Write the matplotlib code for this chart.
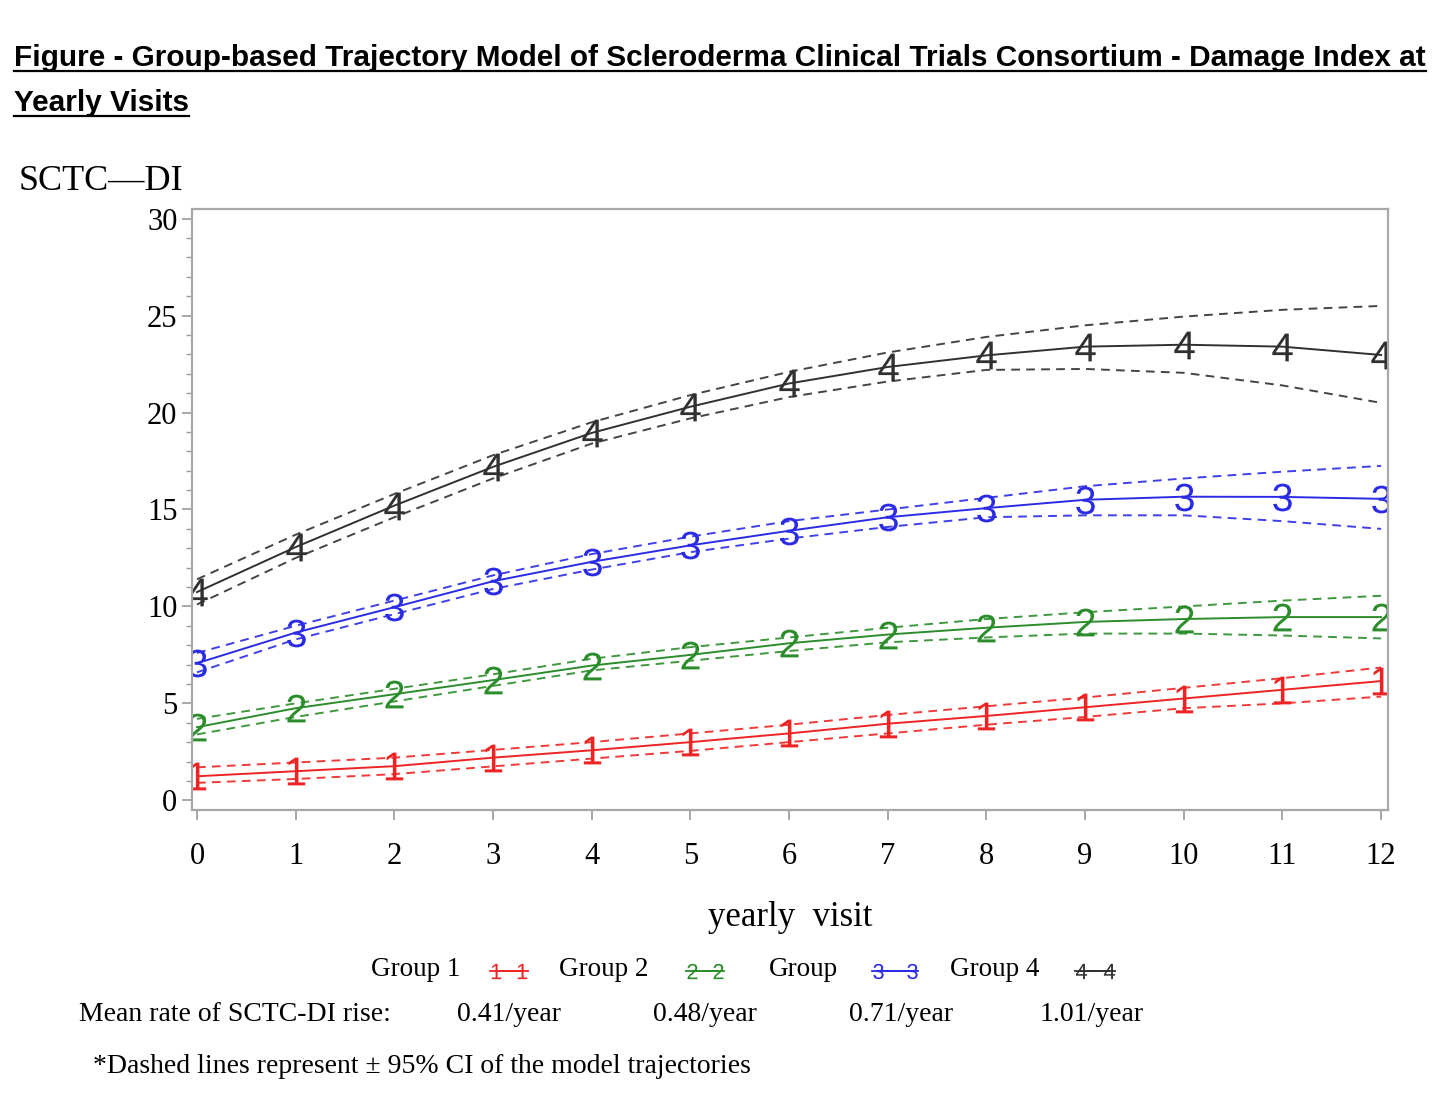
import matplotlib
matplotlib.use("Agg")
import matplotlib.pyplot as plt
from matplotlib.lines import Line2D
import numpy as np

# ----------------------------------------------------------------------------------------------------------------------
#  DATA
# ----------------------------------------------------------------------------------------------------------------------
visits = list(range(13))

g1_mean  = [1.24, 1.50, 1.76, 2.20, 2.58, 3.00, 3.45, 3.95, 4.35, 4.80, 5.25, 5.70, 6.15]
g1_upper = [1.70, 1.95, 2.20, 2.60, 3.00, 3.45, 3.90, 4.40, 4.85, 5.30, 5.80, 6.30, 6.85]
g1_lower = [0.90, 1.10, 1.35, 1.75, 2.15, 2.55, 3.00, 3.45, 3.90, 4.30, 4.75, 5.00, 5.35]

g2_mean  = [3.77, 4.75, 5.47, 6.20, 6.95, 7.50, 8.10, 8.55, 8.90, 9.20, 9.35, 9.45, 9.45]
g2_upper = [4.20, 5.00, 5.75, 6.50, 7.30, 7.90, 8.40, 8.90, 9.35, 9.70, 10.00, 10.30, 10.55]
g2_lower = [3.40, 4.30, 5.10, 5.90, 6.70, 7.20, 7.70, 8.15, 8.40, 8.60, 8.60, 8.50, 8.35]

g3_mean  = [7.07, 8.65, 9.96, 11.30, 12.30, 13.15, 13.90, 14.60, 15.07, 15.50, 15.66, 15.65, 15.55]
g3_upper = [7.60, 9.00, 10.30, 11.60, 12.70, 13.60, 14.40, 15.00, 15.60, 16.20, 16.60, 16.95, 17.25]
g3_lower = [6.60, 8.30, 9.60, 10.90, 11.90, 12.80, 13.50, 14.10, 14.60, 14.70, 14.70, 14.40, 14.00]

g4_mean  = [10.74, 13.06, 15.20, 17.20, 18.95, 20.30, 21.50, 22.35, 22.95, 23.40, 23.50, 23.40, 22.97]
g4_upper = [11.40, 13.70, 15.80, 17.80, 19.50, 20.90, 22.10, 23.10, 23.90, 24.50, 24.95, 25.30, 25.50]
g4_lower = [10.10, 12.50, 14.60, 16.60, 18.40, 19.70, 20.80, 21.60, 22.20, 22.25, 22.05, 21.40, 20.50]

group_labels = ['Group 1', 'Group 2', 'Group', 'Group 4']
group_marks  = ['1', '2', '3', '4']
group_colors = ['#ee2424', '#2a8c2a', '#2b2be6', '#303030']
mean_rates   = ['0.41/year', '0.48/year', '0.71/year', '1.01/year']

x_ticks = list(range(13))
y_ticks = [0, 5, 10, 15, 20, 25, 30]

# ----------------------------------------------------------------------------------------------------------------------
#  PLOT
# ----------------------------------------------------------------------------------------------------------------------
serif = ['Liberation Serif', 'DejaVu Serif']
plt.rcParams['font.family'] = serif
plt.rcParams['mathtext.fontset'] = 'custom'
plt.rcParams['mathtext.sf'] = 'Liberation Sans'

fig = plt.figure(figsize=(14.46, 11.07), dpi=100)
ax  = fig.add_axes([0.1328, 0.2683, 0.8271, 0.5429])

means  = [g1_mean, g2_mean, g3_mean, g4_mean]
uppers = [g1_upper, g2_upper, g3_upper, g4_upper]
lowers = [g1_lower, g2_lower, g3_lower, g4_lower]

for i in range(4):
    col = group_colors[i]
    mk  = r'$\mathsf{' + group_marks[i] + '}$'
    ax.plot(visits, uppers[i], color=col, linewidth=1.4, dashes=(4.5, 3.2), alpha=0.9)
    ax.plot(visits, lowers[i], color=col, linewidth=1.4, dashes=(4.5, 3.2), alpha=0.9)
    ax.plot(visits, means[i], color=col, linewidth=1.4,
            marker=mk, markersize=20,
            markeredgewidth=0, markerfacecolor=col, markeredgecolor=col)

ax.set_xlim(-0.05, 12.07)
ax.set_ylim(-0.5, 30.5)
ax.set_xticks(x_ticks)
ax.set_yticks(y_ticks)
ax.set_yticks(np.arange(0, 31, 1), minor=True)
ax.tick_params(axis='both', which='major', labelsize=22, color='#9a9a9a', width=1.2, length=7, direction='out')
ax.tick_params(axis='y', which='minor', color='#9a9a9a', width=1.0, length=4)
ax.tick_params(axis='x', pad=16)
for sp in ax.spines.values():
    sp.set_color('#a8a8a8')
    sp.set_linewidth(1.6)

ax.set_xlabel('yearly  visit', fontsize=25, labelpad=22)
ax.text(-0.145, 1.045, 'SCTC\u2014DI', transform=ax.transAxes, fontsize=26, ha='left', va='center')

# legend row: label followed by a short line sample with two group digits
W, H = 1446.0, 1107.0
legend_y   = 1 - 970 / H
label_x    = [371, 559, 769, 950]
sample_x   = [(490, 528), (686, 724), (872, 918), (1075, 1115)]
for i in range(4):
    col = group_colors[i]
    fig.text(label_x[i] / W, legend_y, group_labels[i], fontsize=19.5, va='center')
    x0, x1 = sample_x[i]
    fig.add_artist(Line2D([(x0 + 6) / W, (x1 - 6) / W], [legend_y - 0.001] * 2, transform=fig.transFigure,
                          color=col, linewidth=1.3, marker=r'$\mathsf{' + group_marks[i] + '}$',
                          markersize=11, markeredgewidth=0))
    fig.add_artist(Line2D([x0 / W, x1 / W], [legend_y - 0.001] * 2, transform=fig.transFigure,
                          color=col, linewidth=1.3))

# mean rate row
fig.text(0.0546, 0.0835, 'Mean rate of SCTC-DI rise:', fontsize=20, va='center')
for x_pos, rate in zip([0.316, 0.4515, 0.587, 0.719], mean_rates):
    fig.text(x_pos, 0.0835, rate, fontsize=20, va='center')

fig.text(0.064, 0.0365, '*Dashed lines represent \u00b1 95% CI of the model trajectories', fontsize=20, va='center')

# title, bold and underlined
title_lines = ['Figure - Group-based Trajectory Model of Scleroderma Clinical Trials Consortium - Damage Index at',
               'Yearly Visits']
title_y = [0.9404, 0.8997]
title_texts = []
for line, ty in zip(title_lines, title_y):
    t = fig.text(0.0097, ty, line, fontsize=21.4, fontweight='bold',
                 family=['Liberation Sans', 'DejaVu Sans'], va='baseline')
    title_texts.append(t)

fig.canvas.draw()
renderer = fig.canvas.get_renderer()
for t, ty in zip(title_texts, title_y):
    bb = t.get_window_extent(renderer).transformed(fig.transFigure.inverted())
    fig.add_artist(Line2D([bb.x0, bb.x1], [ty - 0.0045, ty - 0.0045], color='black',
                          linewidth=1.6, transform=fig.transFigure))

fig.savefig('out.png', dpi=100)
